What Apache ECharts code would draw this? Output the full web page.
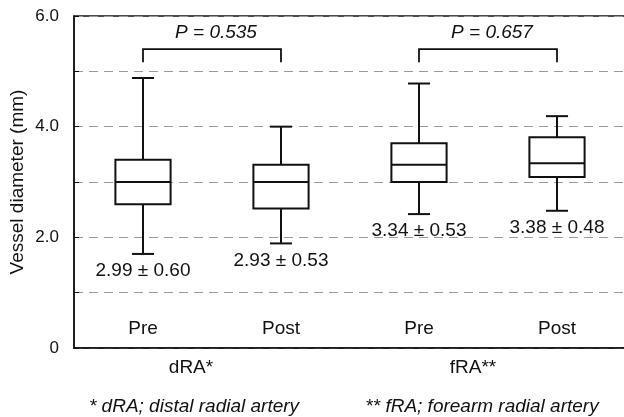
<!DOCTYPE html>
<html><head><meta charset="utf-8">
<script src="https://cdn.jsdelivr.net/npm/echarts@6/dist/echarts.min.js"></script>
<style>html,body{margin:0;padding:0;background:#fff}#c{width:624px;height:417px}</style>
</head><body><div id="c"></div>
<script>
const categories = ['Pre', 'Post', 'Pre', 'Post'];
const groups = ['dRA*', 'fRA**'];
const whiskerLow = [1.70, 1.89, 2.42, 2.48];
const q1 = [2.60, 2.52, 3.00, 3.09];
const median = [3.00, 3.00, 3.31, 3.34];
const q3 = [3.40, 3.31, 3.70, 3.81];
const whiskerHigh = [4.88, 4.00, 4.78, 4.19];
const means = [2.99, 2.93, 3.34, 3.38];
const sds = [0.60, 0.53, 0.53, 0.48];
const pValues = ['0.535', '0.657'];
const bracketPairs = [[0, 1], [2, 3]];
const bracketLevel = [5.40, 5.40];
const yTickLabels = { 0: '0', 2: '2.0', 4: '4.0', 6: '6.0' };
const footnotes = ['* dRA; distal radial artery', '** fRA; forearm radial artery'];

const FONT = '"Liberation Sans", Arial, sans-serif';
const INK = '#111111';

const boxData = categories.map((c, i) => [i, whiskerLow[i], q1[i], median[i], q3[i], whiskerHigh[i], means[i], sds[i]]);
const bracketData = bracketPairs.map((p, i) => [p[0], p[1], bracketLevel[i], pValues[i]]);

const chart = echarts.init(document.getElementById('c'), null, { renderer: 'canvas' });
const lineStyle = { stroke: INK, lineWidth: 2 };

chart.setOption({
  animation: false,
  grid: {
    left: 74, top: 16, right: -2, bottom: 69, containLabel: false, outerBoundsMode: 'none',
    show: true, borderColor: INK, borderWidth: 1.5, backgroundColor: 'transparent'
  },
  xAxis: [
    {
      type: 'category', data: categories, gridIndex: 0,
      axisLine: { show: true, lineStyle: { color: INK, width: 1.5 } },
      axisTick: { show: false },
      axisLabel: { inside: true, margin: 10, color: INK, fontSize: 19, fontFamily: FONT },
      splitLine: { show: false }
    },
    {
      type: 'category', data: groups, gridIndex: 0, position: 'bottom',
      axisLine: { show: false }, axisTick: { show: false },
      axisLabel: {
        margin: 10, color: INK, fontSize: 19, fontFamily: FONT,
        formatter: (v, i) => (i === 0 ? '{a|' + v + '}' : '{b|' + v + '}'),
        rich: {
          a: { fontSize: 19, fontFamily: FONT, color: INK, padding: [0, 42, 0, 0] },
          b: { fontSize: 19, fontFamily: FONT, color: INK, padding: [0, 30, 0, 0] }
        }
      },
      splitLine: { show: false }
    }
  ],
  yAxis: {
    type: 'value', min: 0, max: 6, interval: 1,
    name: 'Vessel diameter (mm)', nameLocation: 'middle', nameGap: 47, nameMoveOverlap: false,
    nameTextStyle: { color: INK, fontSize: 19, fontFamily: FONT },
    axisLine: { show: true, lineStyle: { color: INK, width: 1.5 } },
    axisTick: { show: true, inside: true, length: 5, lineStyle: { color: INK, width: 1 } },
    axisLabel: {
      margin: 15, color: INK, fontSize: 17, fontFamily: FONT,
      formatter: v => (yTickLabels[v] !== undefined ? yTickLabels[v] : '')
    },
    splitLine: { show: true, lineStyle: { color: '#9a9a9a', type: [9, 6], width: 1.2 } }
  },
  series: [
    {
      type: 'custom', xAxisIndex: 0, yAxisIndex: 0, data: boxData, z: 5,
      renderItem: function (params, api) {
        const x = api.value(0);
        const lo = api.coord([x, api.value(1)]);
        const b1 = api.coord([x, api.value(2)]);
        const md = api.coord([x, api.value(3)]);
        const b3 = api.coord([x, api.value(4)]);
        const hi = api.coord([x, api.value(5)]);
        const bw = api.size([1, 0])[0] * 0.4;
        const cw = bw * 0.4;
        const cx = lo[0];
        const txt = api.value(6).toFixed(2) + ' ± ' + api.value(7).toFixed(2);
        return {
          type: 'group', children: [
            { type: 'line', shape: { x1: cx, y1: lo[1], x2: cx, y2: b1[1] }, style: lineStyle },
            { type: 'line', shape: { x1: cx, y1: b3[1], x2: cx, y2: hi[1] }, style: lineStyle },
            { type: 'line', shape: { x1: cx - cw / 2, y1: lo[1], x2: cx + cw / 2, y2: lo[1] }, style: lineStyle },
            { type: 'line', shape: { x1: cx - cw / 2, y1: hi[1], x2: cx + cw / 2, y2: hi[1] }, style: lineStyle },
            { type: 'rect', shape: { x: cx - bw / 2, y: b3[1], width: bw, height: b1[1] - b3[1] }, style: { fill: '#fff', stroke: INK, lineWidth: 2 } },
            { type: 'line', shape: { x1: cx - bw / 2, y1: md[1], x2: cx + bw / 2, y2: md[1] }, style: lineStyle },
            { type: 'text', style: { text: txt, x: cx, y: lo[1] + 17, align: 'center', verticalAlign: 'middle', fontSize: 19, fontFamily: FONT, fill: INK } }
          ]
        };
      }
    },
    {
      type: 'custom', xAxisIndex: 0, yAxisIndex: 0, data: bracketData, z: 5,
      renderItem: function (params, api) {
        const a = api.coord([api.value(0), api.value(2)]);
        const b = api.coord([api.value(1), api.value(2)]);
        const drop = 13;
        return {
          type: 'group', children: [
            { type: 'polyline', shape: { points: [[a[0], a[1] + drop], [a[0], a[1]], [b[0], b[1]], [b[0], b[1] + drop]] }, style: { stroke: INK, lineWidth: 1.8, fill: null } },
            { type: 'text', style: { text: 'P = ' + api.value(3), x: (a[0] + b[0]) / 2 + 4, y: a[1] - 16, align: 'center', verticalAlign: 'middle', fontSize: 19, fontStyle: 'italic', fontFamily: FONT, fill: INK } }
          ]
        };
      }
    }
  ],
  graphic: [
    { type: 'text', x: 194, y: 407, style: { text: footnotes[0], align: 'center', verticalAlign: 'middle', fontSize: 19, fontStyle: 'italic', fontFamily: FONT, fill: INK } },
    { type: 'text', x: 482, y: 407, style: { text: footnotes[1], align: 'center', verticalAlign: 'middle', fontSize: 19, fontStyle: 'italic', fontFamily: FONT, fill: INK } }
  ]
});
</script>
</body></html>
